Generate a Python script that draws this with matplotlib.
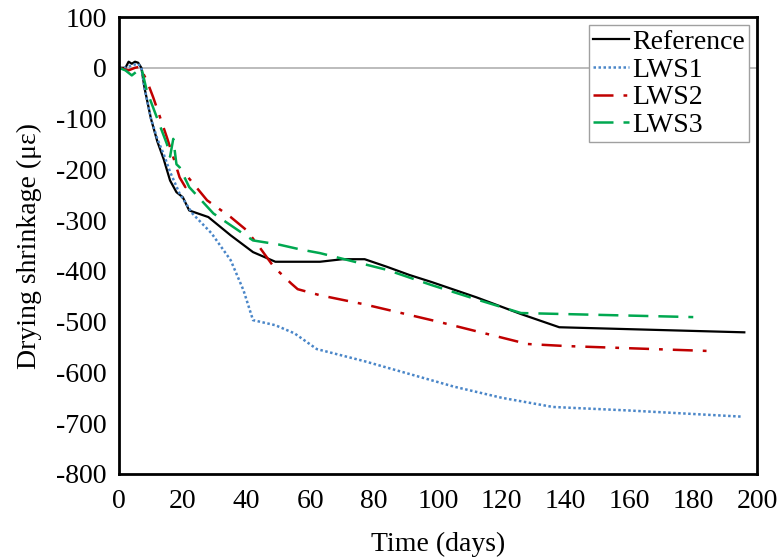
import matplotlib.pyplot as plt

# data (days, microstrain)
ref_t = [0, 2, 3, 4, 5, 6, 7, 8, 10, 12, 14, 16, 18, 20, 22, 28, 35, 42, 49, 56, 63, 70, 77, 84, 91, 98, 112, 126, 138, 196]
ref_v = [0, 0, 12, 8, 12, 10, 0, -40, -100, -145, -180, -222, -245, -255, -281, -294, -330, -363, -382, -382, -382, -377, -377, -392, -408, -422, -452, -485, -511, -521]

lws1_t = [0, 2, 4, 6, 7, 8, 10, 12, 14, 16, 19, 23, 29, 35, 39, 42, 49, 55, 62, 77, 91, 105, 120, 136, 160, 195]
lws1_v = [0, 0, 5, 8, 0, -40, -100, -140, -170, -205, -248, -287, -326, -379, -438, -497, -507, -523, -554, -578, -603, -628, -650, -668, -675, -687]

lws2_t = [0, 3, 5, 6.5, 8.7, 10.7, 13, 15, 17, 19, 20.8, 21.7, 27.6, 35, 40, 44, 48.5, 54, 56, 63, 77, 100, 128, 140, 186]
lws2_v = [0, -5, 0, 2, -25, -58, -100, -137, -176, -216, -235, -216, -261, -294, -320, -353, -392, -425, -436, -448, -466, -500, -544, -548, -558]

lws3_t = [0, 2, 4, 7, 8.7, 13, 15, 16, 17, 18, 19, 22, 29.6, 42, 50, 57, 63, 70, 84, 98, 112, 126, 180]
lws3_v = [0, -5, -15, 0, -45, -117, -150, -175, -140, -190, -196, -235, -287, -340, -348, -358, -365, -376, -398, -428, -456, -483, -491]

plt.rcParams['font.family'] = ['Liberation Serif', 'DejaVu Serif']
plt.rcParams['axes.unicode_minus'] = False

fig = plt.figure(figsize=(7.8, 5.6), dpi=100)
ax = fig.add_axes([0.1526, 0.1536, 0.818, 0.816])

ax.axhline(0, color='#b0b0b0', linewidth=1.2, zorder=1)
ax.plot(ref_t, ref_v, color='black', linewidth=1.6, label='Reference')
ax.plot(lws1_t, lws1_v, color='#4a86c8', linewidth=1.8, linestyle=(0, (1, 1)), label='LWS1')
ax.plot(lws2_t, lws2_v, color='#c00000', linewidth=1.8, linestyle=(0, (8, 4, 1.5, 4)), label='LWS2')
ax.plot(lws3_t, lws3_v, color='#00a850', linewidth=1.8, linestyle=(0, (8, 4)), label='LWS3')

ax.set_xlim(0, 200)
ax.set_ylim(-800, 100)
ax.set_xticks(range(0, 201, 20))
ax.set_yticks(range(-800, 101, 100))
ax.tick_params(length=0, labelsize=20)
ax.tick_params(axis='x', pad=11)
ax.tick_params(axis='y', pad=9)
for s in ax.spines.values():
    s.set_linewidth(2)

ax.set_xlabel('Time (days)', fontsize=20, labelpad=13)
ax.set_ylabel('Drying shrinkage (\u03bc\u03b5)', fontsize=20, labelpad=10)

leg = ax.legend(loc='upper right', fontsize=20, handlelength=1.3, handletextpad=0.1,
                labelspacing=0.08, borderpad=0.15, fancybox=False, framealpha=1,
                borderaxespad=0.3)
leg.get_frame().set_edgecolor('#a0a0a0')
leg.get_frame().set_linewidth(1)

plt.savefig('out.png', dpi=100)
